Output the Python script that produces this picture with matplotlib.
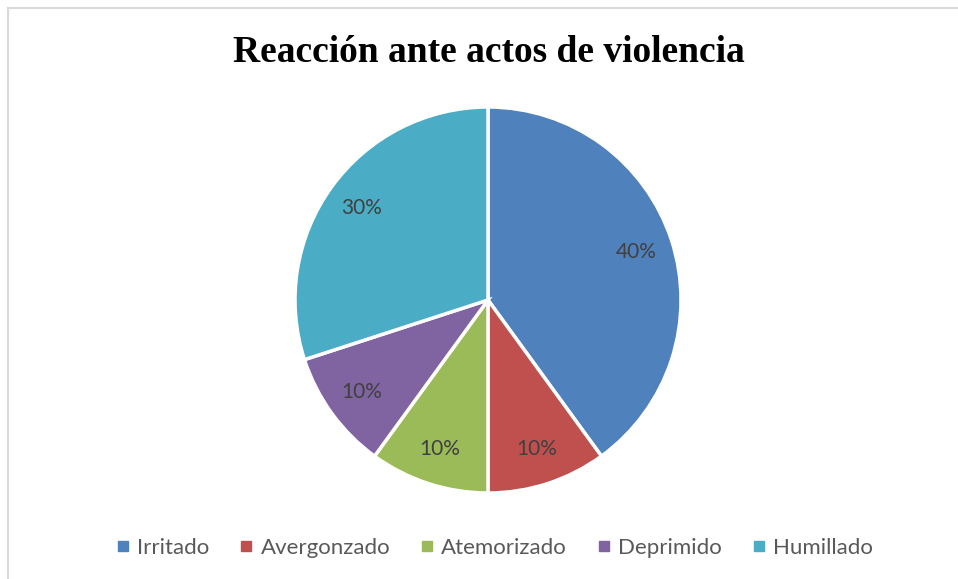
import matplotlib
matplotlib.use("Agg")
import matplotlib.pyplot as plt
from matplotlib.lines import Line2D
from matplotlib.patches import Rectangle

categories = ["Irritado", "Avergonzado", "Atemorizado", "Deprimido", "Humillado"]
values = [40, 10, 10, 10, 30]
colors = ["#4F81BD", "#C0504D", "#9BBB59", "#8064A2", "#4BACC6"]
title = "Reacción ante actos de violencia"

W, H = 958, 579
fig = plt.figure(figsize=(W / 100, H / 100), dpi=100)

# border
fig.patches.append(Rectangle((8 / W, -0.1), 1.2, 1 - 8 / H + 0.1, transform=fig.transFigure,
                             fill=False, edgecolor="#D9D9D9", linewidth=1.5))

cx, cy, r = 488, 300, 193
ax = fig.add_axes([(cx - r) / W, 1 - (cy + r) / H, 2 * r / W, 2 * r / H])
wedges, texts, autotexts = ax.pie(
    values, colors=colors, startangle=90, counterclock=False,
    autopct=lambda p: f"{p:.0f}%", pctdistance=0.81, radius=1,
    wedgeprops=dict(edgecolor="white", linewidth=2.5),
    textprops=dict(fontsize=15, color="#404040", family="Lato"))
ax.set_xlim(-1, 1)
ax.set_ylim(-1, 1)
ax.set_aspect("equal")
ax.axis("off")

fig.text(489 / W, 1 - 53 / H, title, ha="center", va="center",
         fontsize=27, fontweight="bold", family="Liberation Serif", color="black")

handles = [Line2D([], [], marker="s", linestyle="none", markersize=6.5,
                  markerfacecolor=c, markeredgecolor=c) for c in colors]
fig.legend(handles, categories, loc="center", bbox_to_anchor=(494 / W, 1 - 548 / H),
           ncol=5, frameon=False, handlelength=0.7, handletextpad=0.3,
           columnspacing=1.3, prop=dict(family="Lato", size=16), labelcolor="#595959")

fig.savefig("out.png", dpi=100)
